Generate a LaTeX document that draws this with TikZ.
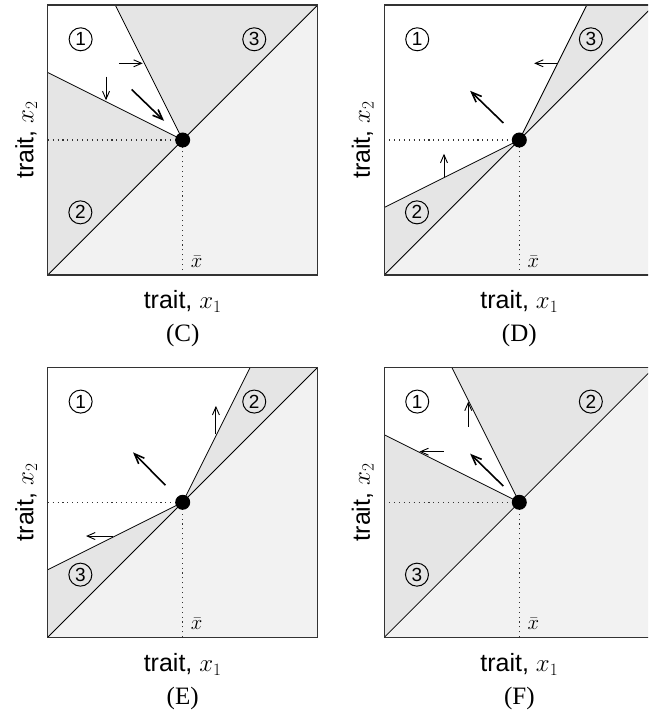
\documentclass[tikz,border=0pt]{standalone}
\usepackage{fontspec}
\setmainfont{Liberation Serif}
\newfontfamily\hvfont{Liberation Sans}
\usetikzlibrary{arrows.meta}
\definecolor{midgray}{gray}{0.9}
\definecolor{lowgray}{gray}{0.95}
\tikzset{
  frameline/.style={draw=black!80, line width=1.3pt},
  bound/.style={black, line width=0.8pt},
  guide/.style={black!80, line width=1.1pt, dash pattern=on 1.1pt off 3.8pt},
  thinarr/.style={-{Straight Barb[length=8pt,width=7pt]}, line width=0.9pt},
  thickarr/.style={-{Straight Barb[length=10pt,width=8pt]}, line width=1.6pt},
  region/.style={circle, draw, line width=1pt, minimum size=23pt, inner sep=0pt, font=\hvfont\fontsize{19}{19}\selectfont},
  axlab/.style={font=\hvfont\fontsize{25}{30}\selectfont, anchor=base},
  panlab/.style={font=\fontsize{25}{30}\selectfont, anchor=base},
  barlab/.style={font=\fontsize{20}{24}\selectfont},
}
% #1 id, #2 left-line y at x=0, #3 top-line x at y=1, #4 letter, #5 top-right label, #6 bottom-left label
\newcommand\drawpanel[6]{%
  \coordinate (#1-SW) at (0,0);
  \coordinate (#1-SE) at (1,0);
  \coordinate (#1-NE) at (1,1);
  \coordinate (#1-NW) at (0,1);
  \coordinate (#1-W) at (0,0.5);
  \coordinate (#1-S) at (0.5,0);
  \coordinate (#1-O) at (0.5,0.5);
  \coordinate (#1-A) at (0,#2);
  \coordinate (#1-B) at (#3,1);
  \fill[lowgray] (#1-SW) -- (#1-SE) -- (#1-NE) -- cycle;
  \fill[midgray] (#1-SW) -- (#1-A) -- (#1-O) -- cycle;
  \fill[midgray] (#1-B) -- (#1-NE) -- (#1-O) -- cycle;
  \draw[bound] (#1-SW) -- (#1-NE);
  \draw[bound] (#1-A) -- (#1-O);
  \draw[bound] (#1-B) -- (#1-O);
  \draw[guide] (#1-W) -- (#1-O);
  \draw[guide] (#1-S) -- (#1-O);
  \draw[frameline] (#1-SW) rectangle (#1-NE);
  \fill (#1-O) circle (7.5pt);
  \node[region] (#1-r1) at (0.122,0.873) {1};
  \node[region] (#1-rtr) at (0.765,0.873) {#5};
  \node[region] (#1-rbl) at (0.121,0.232) {#6};
  \node[barlab] (#1-xbar) at (0.552,0.05) {$\bar{x}$};
  \node[axlab] (#1-xl) at ([yshift=-34pt]#1-S) {trait, $x_1$};
  \node[panlab] (#1-pl) at ([yshift=-67pt]#1-S) {(#4)};
  \node[axlab, rotate=90] (#1-yl) at ([xshift=-14.4pt]#1-W) {trait, $x_2$};
}
\begin{document}
\begin{tikzpicture}
\useasboundingbox (0,0) rectangle (648pt,712pt);
\clip (0,0) rectangle (648pt,712pt);
% Panel C
\begin{scope}[shift={(47.7pt,437pt)}, x=270pt, y=270pt]
  \drawpanel{C}{0.75}{0.25}{C}{3}{2}
  \coordinate (C-a1) at (0.264,0.784); \coordinate (C-a1e) at (0.352,0.784);
  \coordinate (C-a2) at (0.216,0.735); \coordinate (C-a2e) at (0.216,0.647);
  \coordinate (C-a3) at (0.311,0.687); \coordinate (C-a3e) at (0.431,0.571);
  \draw[thinarr] (C-a1) -- (C-a1e);
  \draw[thinarr] (C-a2) -- (C-a2e);
  \draw[thickarr] (C-a3) -- (C-a3e);
\end{scope}
% Panel D
\begin{scope}[shift={(384.3pt,437pt)}, x=270pt, y=270pt]
  \drawpanel{D}{0.25}{0.75}{D}{3}{2}
  \coordinate (D-a1) at (0.642,0.784); \coordinate (D-a1e) at (0.555,0.784);
  \coordinate (D-a2) at (0.441,0.563); \coordinate (D-a2e) at (0.318,0.682);
  \coordinate (D-a3) at (0.221,0.363); \coordinate (D-a3e) at (0.221,0.449);
  \draw[thinarr] (D-a1) -- (D-a1e);
  \draw[thickarr] (D-a2) -- (D-a2e);
  \draw[thinarr] (D-a3) -- (D-a3e);
\end{scope}
% Panel E
\begin{scope}[shift={(47.7pt,74.7pt)}, x=270pt, y=270pt]
  \drawpanel{E}{0.25}{0.75}{E}{2}{3}
  \coordinate (E-a1) at (0.623,0.752); \coordinate (E-a1e) at (0.623,0.857);
  \coordinate (E-a2) at (0.436,0.563); \coordinate (E-a2e) at (0.316,0.685);
  \coordinate (E-a3) at (0.243,0.375); \coordinate (E-a3e) at (0.142,0.375);
  \draw[thinarr] (E-a1) -- (E-a1e);
  \draw[thickarr] (E-a2) -- (E-a2e);
  \draw[thinarr] (E-a3) -- (E-a3e);
\end{scope}
% Panel F
\begin{scope}[shift={(384.3pt,74.7pt)}, x=270pt, y=270pt]
  \drawpanel{F}{0.75}{0.25}{F}{2}{3}
  \coordinate (F-a1) at (0.311,0.78); \coordinate (F-a1e) at (0.311,0.873);
  \coordinate (F-a2) at (0.221,0.6875); \coordinate (F-a2e) at (0.13,0.6875);
  \coordinate (F-a3) at (0.441,0.56); \coordinate (F-a3e) at (0.318,0.68);
  \draw[thinarr] (F-a1) -- (F-a1e);
  \draw[thinarr] (F-a2) -- (F-a2e);
  \draw[thickarr] (F-a3) -- (F-a3e);
\end{scope}
\end{tikzpicture}
\end{document}
